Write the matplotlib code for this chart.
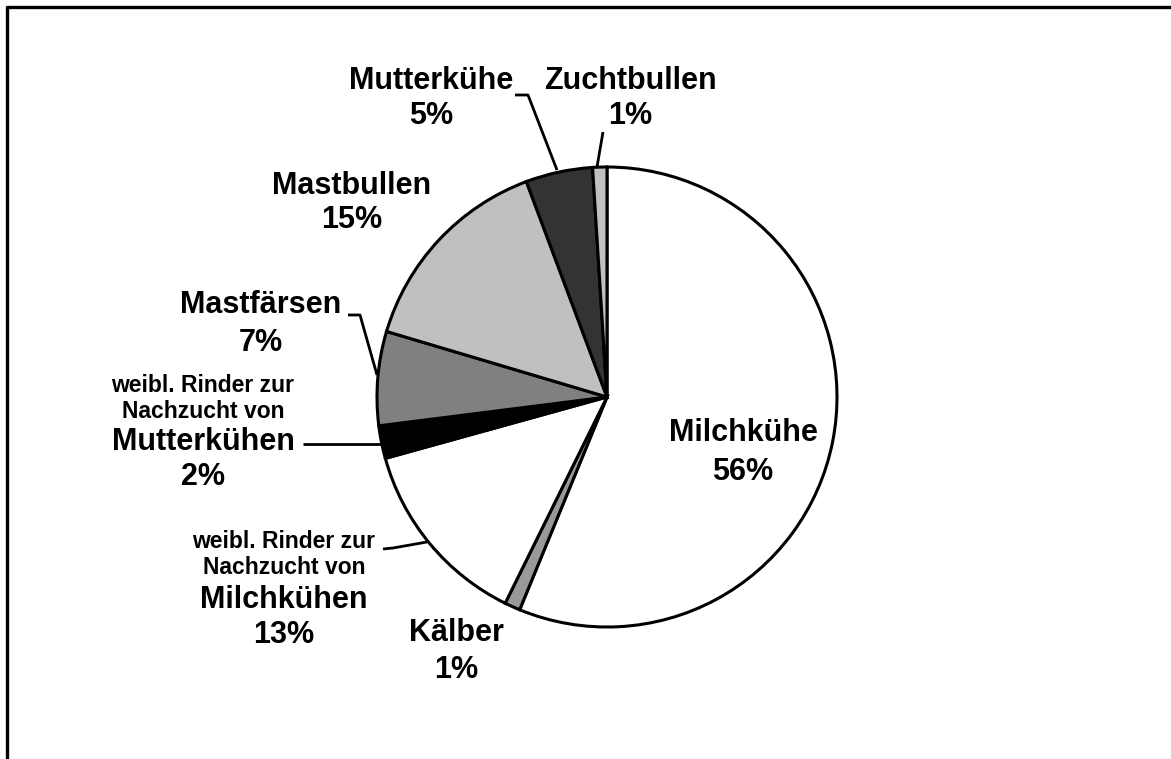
import matplotlib.pyplot as plt
from matplotlib.lines import Line2D

# shares (percent), starting at 12 o'clock, clockwise
names = ["Milchkühe", "Kälber", "Milchkühen", "Mutterkühen",
         "Mastfärsen", "Mastbullen", "Mutterkühe", "Zuchtbullen"]
shares = [56.2, 1.1, 13.4, 2.3, 6.6, 14.7, 4.7, 1.0]
fills = ["#ffffff", "#999999", "#ffffff", "#000000",
         "#808080", "#c0c0c0", "#333333", "#c0c0c0"]
prefix = "weibl. Rinder zur\nNachzucht von"

W, H = 1171, 759
fig = plt.figure(figsize=(W / 100, H / 100), dpi=100)
ax = fig.add_axes([0, 0, 1, 1])

def Y(y):
    # pixel rows from the top -> data y
    return H - y

cx, cy, r = 607, 397, 230
ax.pie(shares, colors=fills, startangle=90, counterclock=False,
       center=(cx, Y(cy)), radius=r,
       wedgeprops=dict(edgecolor="black", linewidth=2.2))
ax.set_xlim(0, W)
ax.set_ylim(0, H)
ax.set_aspect("equal")
ax.axis("off")

big = dict(family="Liberation Sans", fontweight="bold", fontsize=22,
           ha="center", va="center", color="black")
small = dict(big, fontsize=16.5)

def pct(i):
    return f"{shares[i]:.0f}%"

# plain two-line labels: (index, x, y of name, y of percent)
simple = [(0, 743, 433, 472), (1, 456, 633, 670), (4, 261, 305, 343),
          (5, 352, 186, 220), (6, 431, 81, 116), (7, 630, 81, 116)]
for i, x, y1, y2 in simple:
    ax.text(x, Y(y1), names[i], **big)
    ax.text(x, Y(y2), pct(i), **big)

# the two long labels
for i, x, ys in [(3, 203, (385, 412, 442, 477)), (2, 284, (542, 568, 600, 635))]:
    l1, l2 = prefix.split("\n")
    ax.text(x, Y(ys[0]), l1, **small)
    ax.text(x, Y(ys[1]), l2, **small)
    ax.text(x, Y(ys[2]), names[i], **big)
    ax.text(x, Y(ys[3]), pct(i), **big)

# leader lines
leaders = [
    [(603, 132), (597, 167)],
    [(515, 95), (528, 95), (557, 170)],
    [(348, 315), (360, 315), (377, 375)],
    [(303, 444), (382, 444)],
    [(383, 549), (393, 548), (427, 542)],
]
for pts in leaders:
    xs = [p[0] for p in pts]
    ys = [Y(p[1]) for p in pts]
    ax.plot(xs, ys, color="black", linewidth=2, solid_capstyle="butt")

# frame (only left and top edges are visible in the original)
fig.add_artist(Line2D([7 / W, 7 / W, 1], [0, 1 - 7 / H, 1 - 7 / H],
                      transform=fig.transFigure, color="black", linewidth=2.4))

fig.savefig("out.png", dpi=100)
